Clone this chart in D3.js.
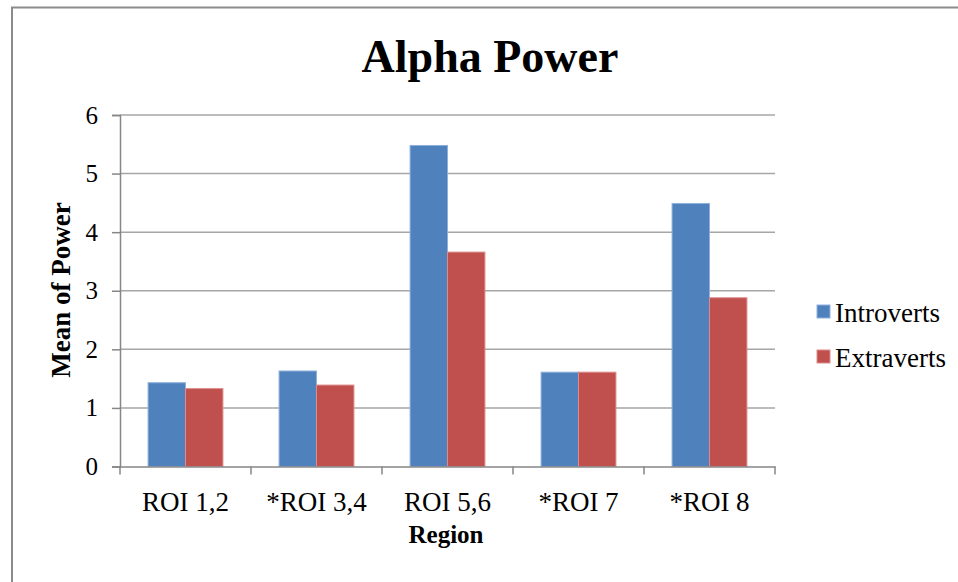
<!DOCTYPE html>
<html>
<head>
<meta charset="utf-8">
<script src="https://cdn.jsdelivr.net/npm/d3@7"></script>
<style>
html,body{margin:0;padding:0;background:#fff;}
svg{display:block;}
</style>
</head>
<body>
<svg id="chart" width="958" height="582"></svg>
<script>
const categories = ["ROI 1,2", "*ROI 3,4", "ROI 5,6", "*ROI 7", "*ROI 8"];
const seriesNames = ["Introverts", "Extraverts"];
const introverts = [1.43, 1.63, 5.48, 1.61, 4.49];
const extraverts = [1.33, 1.39, 3.66, 1.61, 2.88];
const yTicks = [0, 1, 2, 3, 4, 5, 6];
const colors = ["#4F81BD", "#C0504D"];
const strokes = ["#8FB0DC", "#DC8C8A"];

const svg = d3.select("#chart");
const font = "'Liberation Serif', 'Times New Roman', serif";

// outer frame (partially cropped)
svg.append("path")
  .attr("d", "M12,590 L12,7.5 L970,7.5")
  .attr("fill", "none").attr("stroke", "#8c8c8c").attr("stroke-width", 2);

const m = {left: 120, right: 775, top: 115, bottom: 466.5};
const x0 = d3.scaleBand().domain(categories).range([m.left, m.right]).paddingInner(0).paddingOuter(0);
const x1 = d3.scaleBand().domain(seriesNames).range([0, x0.bandwidth()]).paddingInner(0).paddingOuter(0.75);
const y = d3.scaleLinear().domain([0, 6]).range([m.bottom, m.top]);

// gridlines
svg.append("g").selectAll("line").data(yTicks.filter(d => d > 0)).join("line")
  .attr("x1", m.left).attr("x2", m.right)
  .attr("y1", d => y(d)).attr("y2", d => y(d))
  .attr("stroke", "#a6a6a6").attr("stroke-width", 1.5);

// y axis
const yAxis = svg.append("g").attr("transform", `translate(${m.left},0)`)
  .call(d3.axisLeft(y).tickValues(yTicks).tickSize(8).tickPadding(14).tickFormat(d3.format("d")));
yAxis.select(".domain").attr("stroke", "#868686").attr("stroke-width", 1.5);
yAxis.selectAll(".tick line").attr("stroke", "#868686").attr("stroke-width", 1.5);
yAxis.selectAll("text").attr("font-family", font).attr("font-size", 25).attr("fill", "#000");

// bars
const data = categories.map((c, i) => ({cat: c, vals: [introverts[i], extraverts[i]]}));
const groups = svg.append("g").selectAll("g").data(data).join("g")
  .attr("transform", d => `translate(${x0(d.cat)},0)`);
groups.selectAll("rect").data(d => d.vals.map((v, j) => ({name: seriesNames[j], v, j}))).join("rect")
  .attr("x", d => x1(d.name))
  .attr("width", x1.bandwidth())
  .attr("y", d => y(d.v))
  .attr("height", d => y(0) - y(d.v))
  .attr("fill", d => colors[d.j])
  .attr("stroke", d => strokes[d.j]).attr("stroke-width", 1);

// x axis
const xAxis = svg.append("g").attr("transform", `translate(0,${m.bottom})`)
  .call(d3.axisBottom(x0).tickSize(0).tickPadding(25));
xAxis.select(".domain").attr("stroke", "#868686").attr("stroke-width", 1.5);
xAxis.selectAll("text").attr("font-family", font).attr("font-size", 27).attr("fill", "#000");
// category boundary ticks
const bounds = categories.map(c => x0(c)).concat([m.right]);
svg.append("g").selectAll("line").data(bounds).join("line")
  .attr("x1", d => d).attr("x2", d => d)
  .attr("y1", m.bottom).attr("y2", m.bottom + 8)
  .attr("stroke", "#868686").attr("stroke-width", 1.5);

// title
svg.append("text").attr("x", 490).attr("y", 72)
  .attr("text-anchor", "middle").attr("font-family", font)
  .attr("font-weight", "bold").attr("font-size", 46).text("Alpha Power");

// axis titles
svg.append("text").attr("x", 446).attr("y", 543)
  .attr("text-anchor", "middle").attr("font-family", font)
  .attr("font-weight", "bold").attr("font-size", 25).text("Region");
svg.append("text").attr("transform", "translate(70,290) rotate(-90)")
  .attr("text-anchor", "middle").attr("font-family", font)
  .attr("font-weight", "bold").attr("font-size", 27).text("Mean of Power");

// legend
const leg = svg.append("g").selectAll("g").data(seriesNames).join("g")
  .attr("transform", (d, i) => `translate(817,${305 + i * 45})`);
leg.append("rect").attr("width", 13).attr("height", 13)
  .attr("fill", (d, i) => colors[i]).attr("stroke", (d, i) => strokes[i]).attr("stroke-width", 1);
leg.append("text").attr("x", 18).attr("y", 17)
  .attr("font-family", font).attr("font-size", 27).text(d => d);
</script>
</body>
</html>
